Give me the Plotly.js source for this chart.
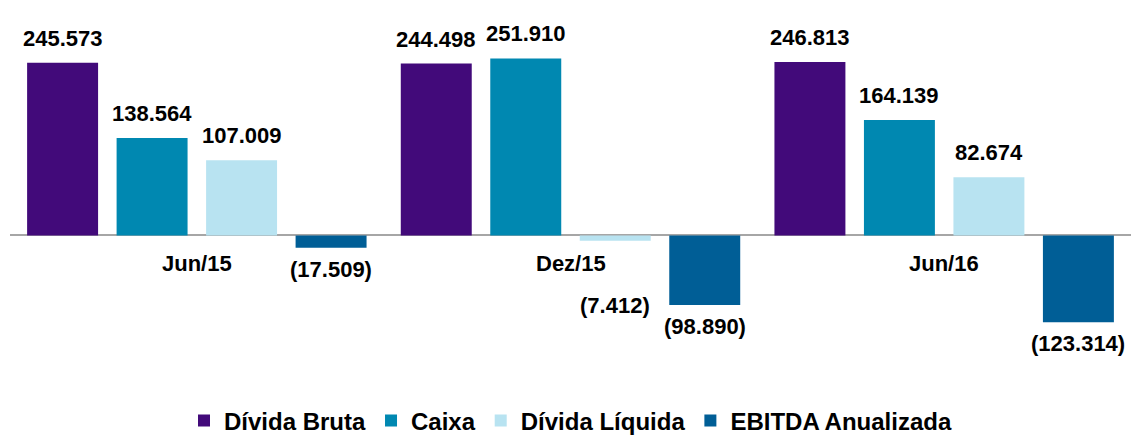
<!DOCTYPE html>
<html>
<head>
<meta charset="utf-8">
<script src="https://cdn.plot.ly/plotly-3.0.1.min.js"></script>
<style>
html,body{margin:0;padding:0;background:#fff;}
#chart{width:1133px;height:436px;}
</style>
</head>
<body>
<div id="chart"></div>
<script>
const categories = ["Jun/15", "Dez/15", "Jun/16"];
const seriesNames = ["Dívida Bruta", "Caixa", "Dívida Líquida", "EBITDA Anualizada"];
const dividaBruta = [245.573, 244.498, 246.813];
const caixa = [138.564, 251.910, 164.139];
const dividaLiquida = [107.009, -7.412, 82.674];
const ebitdaAnualizada = [-17.509, -98.890, -123.314];
const colors = ["#420A7A", "#0088B1", "#B8E3F1", "#005E96"];

const series = [dividaBruta, caixa, dividaLiquida, ebitdaAnualizada];

function fmt(v) {
  const s = Math.abs(v).toFixed(3);
  return v < 0 ? "(" + s + ")" : s;
}

const W = 1133, H = 436;
const margin = {l: 10, r: 2, t: 30, b: 60, pad: 0, autoexpand: false};
const bargap = 0.042, bargroupgap = 0.207;
const plotW = W - margin.l - margin.r;
const slot = plotW / categories.length * (1 - bargap) / series.length;
const FONT = "Liberation Sans, Arial, sans-serif";

const traces = series.map((vals, i) => ({
  type: "bar",
  name: seriesNames[i],
  x: categories,
  y: vals,
  marker: {color: colors[i], line: {width: 0}},
  hoverinfo: "x+y+name"
}));

const annotations = [];
series.forEach((vals, i) => {
  vals.forEach((v, j) => {
    const pos = v >= 0;
    let ys = pos ? 10 : -7;
    if (!pos && Math.abs(v) < 10) ys = -50;
    annotations.push({
      xref: "x", yref: "y", x: categories[j], y: v,
      xshift: (i - (series.length - 1) / 2) * slot,
      yshift: ys,
      yanchor: pos ? "bottom" : "top",
      xanchor: "center",
      showarrow: false,
      text: fmt(v),
      font: {size: 22, color: "#000", family: FONT, weight: "bold"}
    });
  });
});
categories.forEach(c => {
  annotations.push({
    xref: "x", yref: "y", x: c, y: 0, yshift: -28, yanchor: "middle",
    showarrow: false, text: c,
    font: {size: 22, color: "#000", family: FONT, weight: "bold"}
  });
});

const layout = {
  width: W, height: H,
  margin: margin,
  paper_bgcolor: "#fff", plot_bgcolor: "#fff",
  font: {family: FONT, color: "#000", weight: "bold"},
  barmode: "group",
  bargap: bargap,
  bargroupgap: bargroupgap,
  showlegend: true,
  legend: {
    orientation: "h", x: 0.5, xanchor: "center", y: -0.065, yanchor: "top",
    font: {size: 24, color: "#000", weight: "bold"},
    itemwidth: 30, traceorder: "normal"
  },
  xaxis: {showticklabels: false, showgrid: false, zeroline: false, showline: false, ticks: ""},
  yaxis: {range: [-199.9, 292.3], showticklabels: false, showgrid: false,
          zeroline: true, zerolinecolor: "#A6A6A6", zerolinewidth: 2, showline: false, ticks: ""},
  annotations: annotations
};

Plotly.newPlot("chart", traces, layout, {displayModeBar: false, staticPlot: true});
</script>
</body>
</html>
